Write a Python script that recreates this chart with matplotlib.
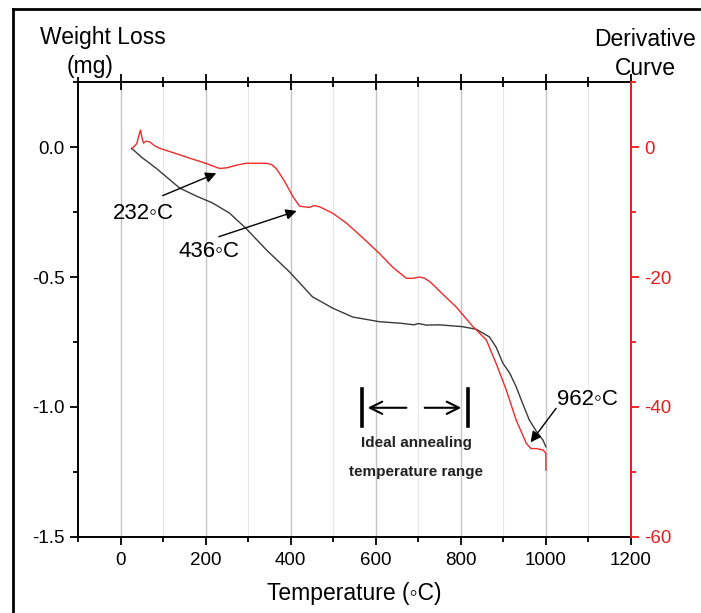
import matplotlib
matplotlib.use('Agg')
import numpy as np
from matplotlib import pyplot as plt
from matplotlib.lines import Line2D
from matplotlib.ticker import MultipleLocator

plt.rcParams['font.family'] = ['Liberation Sans', 'DejaVu Sans']
plt.rcParams['axes.unicode_minus'] = False

# weight loss curve (left axis, mg)
tg_temp = [26, 50, 84, 139, 180, 216, 256, 295, 343, 397, 451, 499, 546, 609,
           660, 690, 700, 719, 750, 804, 836, 867, 883, 899, 915, 930, 945,
           961, 980, 993, 1000]
tg_loss = [-0.005, -0.04, -0.082, -0.158, -0.19, -0.215, -0.254, -0.313, -0.396,
           -0.48, -0.576, -0.62, -0.654, -0.672, -0.678, -0.684, -0.679, -0.685,
           -0.684, -0.691, -0.701, -0.73, -0.77, -0.832, -0.87, -0.922, -0.985,
           -1.05, -1.10, -1.127, -1.153]

# derivative curve (right axis)
dtg_temp = [26, 38, 44, 47, 50, 54, 60, 68, 80, 92, 130, 162, 200, 233, 250,
            272, 295, 343, 355, 366, 385, 405, 421, 444, 455, 468, 499, 531,
            570, 609, 640, 672, 687, 703, 715, 727, 760, 789, 828, 845, 860,
            883, 907, 930, 954, 965, 977, 993, 1000, 1000]
dtg_val = [-0.3, 0.5, 2.0, 2.6, 1.5, 0.6, 0.9, 0.8, 0.2, -0.2, -1.0, -1.7, -2.5,
           -3.3, -3.2, -2.8, -2.5, -2.5, -2.7, -3.3, -5.2, -7.6, -9.1, -9.3,
           -9.0, -9.2, -10.2, -11.7, -14.0, -16.4, -18.5, -20.2, -20.2, -20.0,
           -20.2, -20.7, -22.8, -24.6, -27.6, -28.7, -29.7, -33.3, -37.4, -42.0,
           -45.6, -46.4, -46.4, -46.6, -47.1, -49.7]

fig = plt.figure(figsize=(7.01, 6.13), dpi=100)
ax = fig.add_axes([0.1113, 0.124, 0.7888, 0.7422])
ax2 = ax.twinx()

# vertical grid, darker on the majors
for t in range(0, 1200, 100):
    if t % 200 == 0:
        ax.axvline(t, color='#c4c4c4', lw=1.0, zorder=0)
    else:
        ax.axvline(t, color='#e6e6e6', lw=0.8, zorder=0)

ax.plot(tg_temp, tg_loss, color='#3a3a3a', lw=1.0)
ax2.plot(dtg_temp, dtg_val, color='#ee2a2a', lw=1.0)

ax.set_xlim(-100, 1200)
ax.set_ylim(-1.5, 0.25)
ax2.set_ylim(-60, 10)

ax.xaxis.set_major_locator(MultipleLocator(200))
ax.xaxis.set_minor_locator(MultipleLocator(100))
ax.yaxis.set_major_locator(MultipleLocator(0.5))
ax.yaxis.set_minor_locator(MultipleLocator(0.25))
ax.yaxis.set_major_formatter(plt.FormatStrFormatter('%.1f'))
ax2.yaxis.set_major_locator(MultipleLocator(20))
ax2.yaxis.set_minor_locator(MultipleLocator(10))

ax.tick_params(axis='x', which='both', bottom=True, top=True, labelsize=13.5,
               width=1.3, pad=5)
ax.tick_params(axis='x', which='major', direction='out', length=6)
ax.tick_params(axis='x', which='minor', direction='out', length=3.5)
ax.tick_params(axis='y', which='major', direction='out', length=6, width=1.3,
               labelsize=13.5, right=False)
ax.tick_params(axis='y', which='minor', direction='out', length=3.5, width=1.3,
               right=False)
ax2.tick_params(axis='y', which='major', direction='out', length=6, width=1.3,
                labelsize=13.5, colors='#e81c1c')
ax2.tick_params(axis='y', which='minor', direction='out', length=3.5,
                width=1.3, colors='#e81c1c')

# top axis ticks point inward
sec = ax.secondary_xaxis('top')
sec.xaxis.set_major_locator(MultipleLocator(200))
sec.xaxis.set_minor_locator(MultipleLocator(100))
sec.tick_params(which='major', direction='in', length=6, width=1.3,
                labeltop=False)
sec.tick_params(which='minor', direction='in', length=3.5, width=1.3)
sec.spines['top'].set_visible(False)

for s in ax.spines.values():
    s.set_linewidth(1.4)
ax.spines['right'].set_visible(False)
for k in ['left', 'top', 'bottom']:
    ax2.spines[k].set_visible(False)
ax2.spines['right'].set_color('#e81c1c')
ax2.spines['right'].set_linewidth(1.4)

ax.set_xlabel('Temperature (◦C)', fontsize=16.5, labelpad=9)

fig.text(0.147, 0.939, 'Weight Loss', fontsize=16.5, ha='center', va='center')
fig.text(0.128, 0.892, '(mg)', fontsize=16.5, ha='center', va='center')
fig.text(0.920, 0.935, 'Derivative', fontsize=16.5, ha='center', va='center')
fig.text(0.920, 0.889, 'Curve', fontsize=16.5, ha='center', va='center')

head = dict(arrowstyle='-|>', color='black', lw=1.0, mutation_scale=16,
            shrinkA=0, shrinkB=0)
ax.annotate('', xy=(225, -0.101), xytext=(99, -0.187), arrowprops=head)
ax.text(54, -0.254, '232◦C', fontsize=16, ha='center', va='center')
ax.annotate('', xy=(414, -0.246), xytext=(231, -0.345), arrowprops=head)
ax.text(209, -0.403, '436◦C', fontsize=16, ha='center', va='center')
ax.annotate('', xy=(964, -1.136), xytext=(1024, -1.005), arrowprops=head)
ax.text(1098, -0.973, '962◦C', fontsize=16, ha='center', va='center')

# annealing range marker
ax.plot([568, 568], [-0.931, -1.075], color='black', lw=2.6)
ax.plot([816, 816], [-0.931, -1.075], color='black', lw=2.6)
open_head = dict(arrowstyle='->', color='black', lw=1.5, mutation_scale=22,
                 shrinkA=0, shrinkB=0)
ax.annotate('', xy=(581, -1.003), xytext=(672, -1.003), arrowprops=open_head)
ax.annotate('', xy=(801, -1.003), xytext=(715, -1.003), arrowprops=open_head)
ax.text(695, -1.139, 'Ideal annealing', fontsize=11, fontweight='bold',
        ha='center', va='center', color='#222222')
ax.text(695, -1.249, 'temperature range', fontsize=11, fontweight='bold',
        ha='center', va='center', color='#222222')

# outer frame of the picture
fig.add_artist(Line2D([0.0185, 0.0185], [0.0, 0.986], color='black', lw=2.0))
fig.add_artist(Line2D([0.0185, 1.0], [0.986, 0.986], color='black', lw=2.0))

fig.savefig('out.png', dpi=100)
